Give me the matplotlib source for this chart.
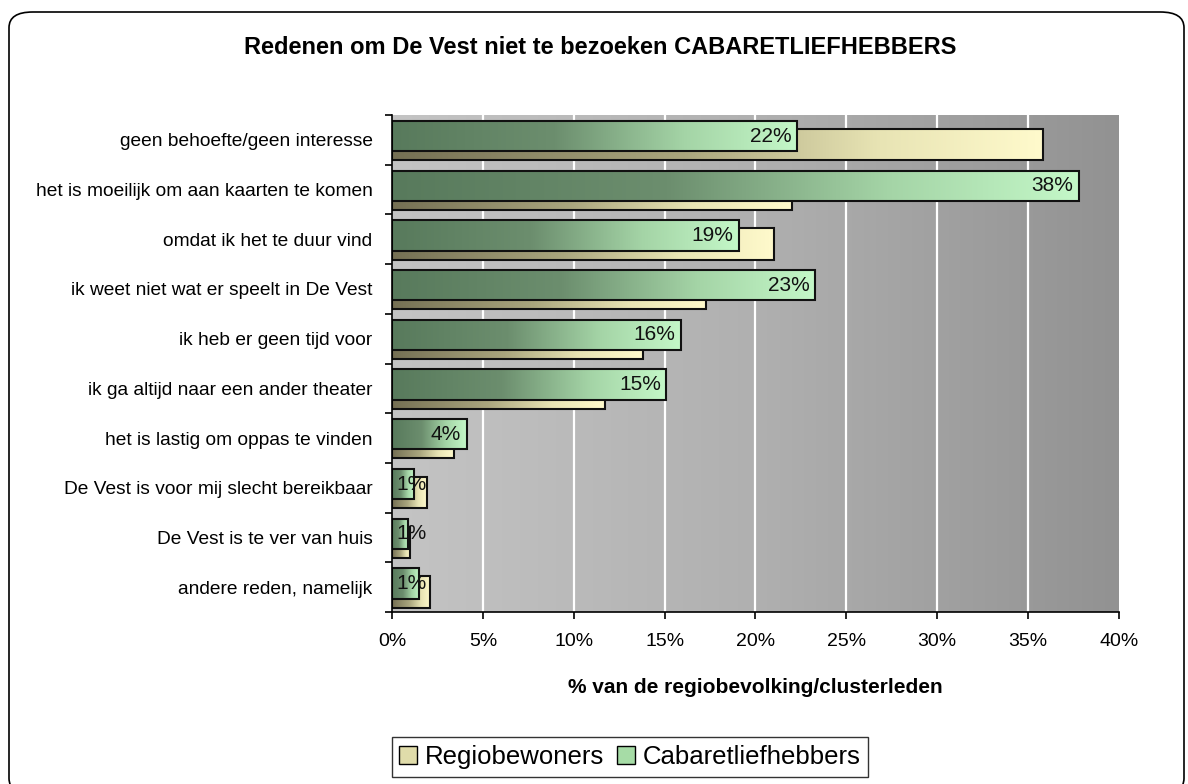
import matplotlib

matplotlib.use("Agg")
import matplotlib.pyplot as plt
import numpy as np
from matplotlib.colors import LinearSegmentedColormap
from matplotlib.patches import FancyBboxPatch, Patch

categories = [
    "geen behoefte/geen interesse",
    "het is moeilijk om aan kaarten te komen",
    "omdat ik het te duur vind",
    "ik weet niet wat er speelt in De Vest",
    "ik heb er geen tijd voor",
    "ik ga altijd naar een ander theater",
    "het is lastig om oppas te vinden",
    "De Vest is voor mij slecht bereikbaar",
    "De Vest is te ver van huis",
    "andere reden, namelijk",
]
regio = [35.8, 22.0, 21.0, 17.3, 13.8, 11.7, 3.4, 1.9, 1.0, 2.1]
cabaret = [22.3, 37.8, 19.1, 23.3, 15.9, 15.1, 4.1, 1.2, 0.9, 1.5]
cabaret_labels = ["22%", "38%", "19%", "23%", "16%", "15%", "4%", "1%", "1%", "1%"]
xticks = [0, 5, 10, 15, 20, 25, 30, 35, 40]

FONT = "Liberation Sans"

green_cmap = LinearSegmentedColormap.from_list(
    "green", [(0.0, "#587a5c"), (0.4, "#6c8e6e"), (0.72, "#a4d4a6"), (1.0, "#c4f8c8")]
)
cream_cmap = LinearSegmentedColormap.from_list(
    "cream", [(0.0, "#757054"), (0.45, "#aaa67e"), (0.75, "#e8e4b4"), (1.0, "#fffacc")]
)
bg_cmap = LinearSegmentedColormap.from_list("bg", ["#c4c4c4", "#b0b0b0", "#929292"])

fig = plt.figure(figsize=(11.88, 7.84), dpi=100)
fig.patch.set_facecolor("white")

# rounded chart border
W, H = 1188, 784
fig.patches.append(
    FancyBboxPatch(
        (9 / W, -10 / H), 1175 / W, 782 / H,
        boxstyle="round,pad=0,rounding_size=0.02",
        transform=fig.transFigure, fill=False, edgecolor="black", linewidth=1.2,
    )
)

ax = fig.add_axes([392 / W, 1 - 612 / H, 727 / W, 497 / H])
ax.set_xlim(0, 40)
ax.set_ylim(len(categories) - 0.5, -0.5)

# plot area background gradient
grad = np.linspace(0, 1, 256).reshape(1, -1)
ax.imshow(grad, cmap=bg_cmap, extent=(0, 40, len(categories) - 0.5, -0.5),
          aspect="auto", zorder=0)
for x in xticks[1:-1]:
    ax.axvline(x, color="white", linewidth=1.6, zorder=1)

y = np.arange(len(categories))


def gradient_bars(values, centers, height, cmap, zorder):
    bars = ax.barh(centers, values, height=height, color="none",
                   edgecolor="#111111", linewidth=1.5, zorder=zorder + 0.5)
    for bar in bars:
        x0, y0 = bar.get_x(), bar.get_y()
        w, h = bar.get_width(), bar.get_height()
        im = ax.imshow(grad, cmap=cmap, extent=(x0, x0 + w, y0 + h, y0),
                       aspect="auto", zorder=zorder)
        im.set_clip_path(bar)
    return bars


gradient_bars(regio, y + 0.095, 0.63, cream_cmap, 2)
gradient_bars(cabaret, y - 0.075, 0.61, green_cmap, 3)

for val, lab, yy in zip(cabaret, cabaret_labels, y - 0.075):
    if val >= 3:
        ax.annotate(lab, (val, yy), xytext=(-4, 0), textcoords="offset points",
                    ha="right", va="center", fontsize=15, family=FONT,
                    color="#111111", zorder=6)
    else:
        ax.annotate(lab, (0, yy), xytext=(3, 0), textcoords="offset points",
                    ha="left", va="center", fontsize=15, family=FONT,
                    color="#111111", zorder=6)

ax.set_xticks(xticks)
ax.set_xticklabels([f"{v}%" for v in xticks], family=FONT, fontsize=14)
ax.set_yticks(y)
ax.set_yticklabels(categories, family=FONT, fontsize=13.8)
ax.set_yticks(np.arange(len(categories) + 1) - 0.5, minor=True)
ax.tick_params(axis="y", which="major", length=0, pad=14)
ax.tick_params(axis="y", which="minor", length=5, width=1.2, direction="out")
ax.tick_params(axis="x", length=5, width=1.2, direction="out", pad=10)
for side in ("top", "right"):
    ax.spines[side].set_visible(False)
for side in ("left", "bottom"):
    ax.spines[side].set_linewidth(1.2)
    ax.spines[side].set_zorder(7)

ax.set_xlabel("% van de regiobevolking/clusterleden", family=FONT,
              fontsize=15, fontweight="bold", labelpad=20)

fig.text(600 / W, 1 - 47 / H, "Redenen om De Vest niet te bezoeken CABARETLIEFHEBBERS",
         ha="center", va="center", family=FONT, fontsize=17, fontweight="bold")

handles = [
    Patch(facecolor="#e0dcaa", edgecolor="black", label="Regiobewoners"),
    Patch(facecolor="#a6dca6", edgecolor="black", label="Cabaretliefhebbers"),
]
fig.legend(handles=handles, loc="center", bbox_to_anchor=(630 / W, 1 - 757 / H),
           ncol=2, frameon=True, fancybox=False, edgecolor="black",
           prop={"family": FONT, "size": 18.5}, handlelength=0.7, handleheight=0.7,
           handletextpad=0.3, columnspacing=0.5, borderpad=0.3)

fig.savefig("out.png", dpi=100)
